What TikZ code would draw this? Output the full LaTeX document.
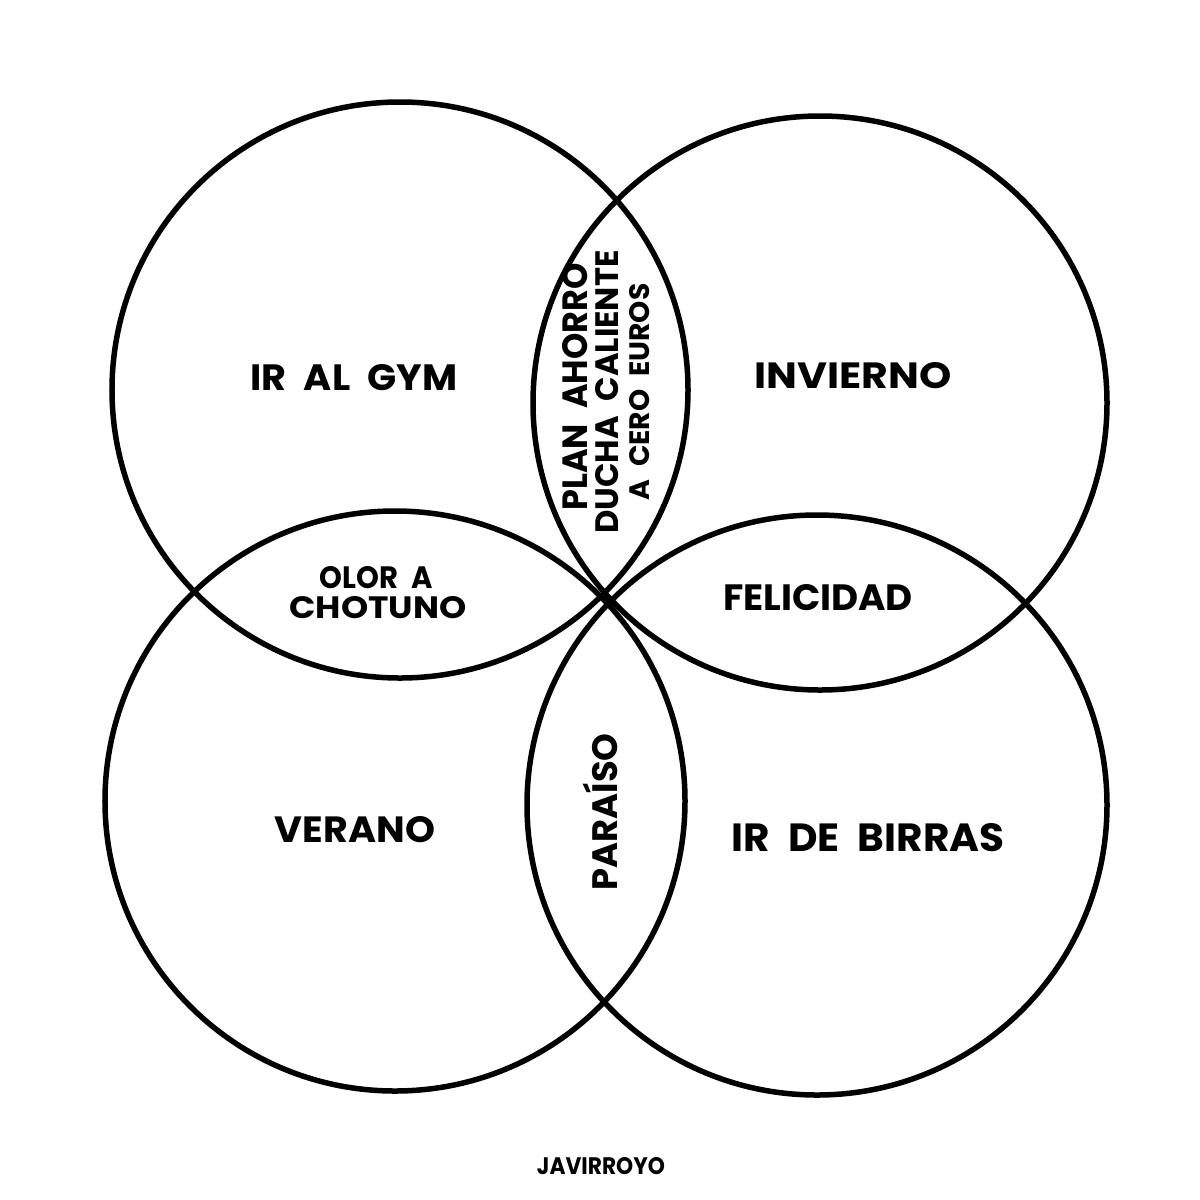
\documentclass[tikz,border=0pt]{standalone}
\usepackage{fontspec}
\setmainfont{Poppins}
\usepackage{graphicx}
\newcommand{\fitto}[3]{\resizebox{#1}{#2}{#3}}
\newcommand{\gap}{\hspace{0.45em}}
\begin{document}
\begin{tikzpicture}[x=1bp,y=-1bp,
  venn/.style={draw=black, line width=5.5bp, circle, inner sep=0pt},
  lbl/.style={inner sep=0pt, font=\bfseries}]
\useasboundingbox[fill=white] (0,0) rectangle (1200,1200);
\node[venn, minimum size=576bp] (gym) at (400,390) {};
\node[venn, minimum size=574bp] (invierno) at (820,403) {};
\node[venn, minimum size=580bp] (verano) at (395,801) {};
\node[venn, minimum size=580bp] (birras) at (817,805) {};

\node[lbl] (tgym) at (354,378) {\fitto{207bp}{26bp}{IR\gap AL\gap GYM}};
\node[lbl] (tinv) at (853,376) {\fitto{197bp}{26bp}{INVIERNO}};
\node[lbl] (tolor) at (376,578) {\fitto{113bp}{22bp}{OLOR\gap A}};
\node[lbl] (tchot) at (378,608) {\fitto{177bp}{22bp}{CHOTUNO}};
\node[lbl] (tfel) at (818,598) {\fitto{190bp}{26bp}{FELICIDAD}};
\node[lbl] (tver) at (355,830) {\fitto{160bp}{26bp}{VERANO}};
\node[lbl] (tbir) at (868,838) {\fitto{273bp}{28bp}{IR\gap DE\gap BIRRAS}};
\node[lbl, rotate=90] (tpar) at (600,812) {\fitto{157bp}{!}{PARAÍSO}};
\node[lbl, rotate=90] (tplan) at (575,387) {\fitto{247bp}{25bp}{PLAN\gap AHORRO}};
\node[lbl, rotate=90] (tduch) at (607,392) {\fitto{283bp}{23bp}{DUCHA\gap CALIENTE}};
\node[lbl, rotate=90] (tcero) at (640,392) {\fitto{217bp}{20bp}{A\gap CERO\gap EUROS}};
\node[lbl] (tsig) at (601,1166) {\fitto{128bp}{17bp}{JAVIRROYO}};
\end{tikzpicture}
\end{document}
